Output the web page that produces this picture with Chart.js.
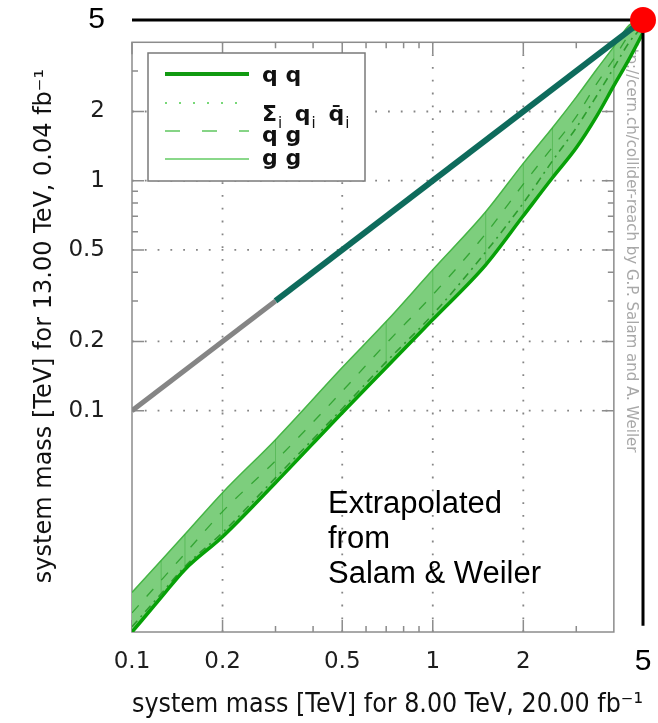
<!DOCTYPE html>
<html>
<head>
<meta charset="utf-8">
<script src="https://cdn.jsdelivr.net/npm/chart.js@4.4.1/dist/chart.umd.min.js"></script>
<style>
  html, body { margin: 0; padding: 0; background: #fff; }
</style>
</head>
<body>
<canvas id="chart" width="658" height="723"></canvas>
<script>
// axis ranges
const xRange = [0.1, 5];
const yRange = [0.0109, 5];
const frameMax = 4; // edge of the original Salam & Weiler frame
const tickValues = [0.1, 0.2, 0.5, 1, 2, 5];
const gridX = [0.2, 0.5, 1, 2];
const gridY = [0.1, 0.2, 0.5, 1, 2];
const minorTicks = [0.3, 0.4, 0.6, 0.7, 0.8, 0.9, 3];

// reach band
const bandX = [0.1, 0.125, 0.15, 0.2, 0.3, 0.5, 0.7, 1, 1.5, 2, 2.5, 3, 3.5, 4, 4.5, 5];
const qqLower = [0.0109, 0.0154, 0.0204, 0.0283, 0.0486, 0.098, 0.154, 0.249, 0.431, 0.704, 1.03, 1.39, 1.90, 2.59, 3.39, 4.4];
const qqbarMid = [0.0115, 0.016, 0.021, 0.0295, 0.051, 0.102, 0.163, 0.262, 0.49, 0.80, 1.22, 1.70, 2.33, 3.10, 4.0, 4.7];
const qgMid = [0.0132, 0.0183, 0.0239, 0.0364, 0.0605, 0.1215, 0.196, 0.319, 0.588, 0.966, 1.40, 1.90, 2.63, 3.39, 4.31, 4.8];
const ggUpper = [0.0162, 0.0223, 0.0290, 0.0440, 0.0748, 0.154, 0.244, 0.410, 0.733, 1.19, 1.70, 2.31, 3.04, 3.83, 4.75, 5.0];
const hatchX = [0.125, 0.15, 0.2, 0.3, 0.7, 1, 1.5, 2, 2.5, 4];

// equal-mass diagonal and the 5 TeV marker
const diagGreyX = [0.1, 0.3];
const diagTealX = [0.3, 5];
const limitX = [0.1, 5, 5];
const limitY = [5, 5, 0.0116];
const markerX = [5];
const markerY = [5];

const pts = (xs, ys) => xs.map((v, i) => ({ x: v, y: ys[i] }));

const overlay = {
  id: "overlay",
  beforeDatasetsDraw(chart) {
    const { ctx, scales: { x, y } } = chart;
    const left = x.getPixelForValue(xRange[0]);
    const right = x.getPixelForValue(frameMax);
    const bottom = y.getPixelForValue(yRange[0]);
    const top = y.getPixelForValue(frameMax);
    ctx.save();

    // dotted grid inside the old frame
    ctx.strokeStyle = "#858585";
    ctx.lineWidth = 1.8;
    ctx.setLineDash([1.8, 11]);
    gridX.forEach((v) => {
      const px = x.getPixelForValue(v);
      ctx.beginPath(); ctx.moveTo(px, bottom); ctx.lineTo(px, top); ctx.stroke();
    });
    gridY.forEach((v) => {
      const py = y.getPixelForValue(v);
      ctx.beginPath(); ctx.moveTo(left, py); ctx.lineTo(right, py); ctx.stroke();
    });

    // frame and inward ticks
    ctx.setLineDash([]);
    ctx.strokeStyle = "#8c8c8c";
    ctx.lineWidth = 1.5;
    ctx.strokeRect(left, top, right - left, bottom - top);
    const tick = (v, len) => {
      const px = x.getPixelForValue(v);
      ctx.beginPath();
      ctx.moveTo(px, bottom); ctx.lineTo(px, bottom - len);
      ctx.moveTo(px, top); ctx.lineTo(px, top + len);
      ctx.stroke();
      const py = y.getPixelForValue(v);
      ctx.beginPath();
      ctx.moveTo(left, py); ctx.lineTo(left + len, py);
      ctx.moveTo(right, py); ctx.lineTo(right - len, py);
      ctx.stroke();
    };
    gridY.forEach((v) => tick(v, 12));
    minorTicks.forEach((v) => tick(v, 6));

    // credit line
    const wx = (right + x.getPixelForValue(xRange[1])) / 2 + 2;
    ctx.translate(wx, top - 9);
    ctx.rotate(Math.PI / 2);
    ctx.fillStyle = "#a8a8a8";
    ctx.font = '15px "DejaVu Sans"';
    ctx.textBaseline = "middle";
    ctx.fillText("http://cern.ch/collider-reach by G.P. Salam and A. Weiler", 0, 0);
    ctx.restore();
  },
  afterDatasetsDraw(chart) {
    const { ctx } = chart;
    ctx.save();

    // faint slices of the band
    const lo = chart.getDatasetMeta(4).data;
    const hi = chart.getDatasetMeta(7).data;
    ctx.strokeStyle = "rgba(40, 160, 40, 0.4)";
    ctx.lineWidth = 1;
    hatchX.forEach((v) => {
      const i = bandX.indexOf(v);
      ctx.beginPath(); ctx.moveTo(lo[i].x, lo[i].y); ctx.lineTo(hi[i].x, hi[i].y); ctx.stroke();
    });

    // legend
    ctx.fillStyle = "#fff";
    ctx.fillRect(148, 53, 217, 128);
    ctx.strokeStyle = "#7a7a7a";
    ctx.lineWidth = 1.5;
    ctx.strokeRect(148, 53, 217, 128);

    const sample = (yy, color, width, dash) => {
      ctx.strokeStyle = color;
      ctx.lineWidth = width;
      ctx.setLineDash(dash);
      ctx.beginPath(); ctx.moveTo(165, yy); ctx.lineTo(249, yy); ctx.stroke();
    };
    sample(74, "#119a11", 4, []);
    sample(103, "#78d878", 2, [2, 12]);
    sample(131, "#86d486", 2, [15, 22]);
    sample(159, "#8ad88a", 2, []);
    ctx.setLineDash([]);

    ctx.fillStyle = "#111";
    ctx.textBaseline = "alphabetic";
    ctx.font = 'bold 22px "DejaVu Sans"';
    ctx.fillText("q q", 262, 82);
    ctx.fillText("q g", 262, 142);
    ctx.fillText("g g", 262, 165);
    let cx = 262;
    [["Σ", 0], ["i", 1], [" ", 0], ["q", 0], ["i", 1], [" ", 0], ["q̄", 0], ["i", 1]].forEach(([s, sub]) => {
      ctx.font = sub ? '15px "DejaVu Sans"' : 'bold 22px "DejaVu Sans"';
      ctx.fillText(s, cx, sub ? 128 : 121);
      cx += ctx.measureText(s).width + (sub ? 4 : 1);
    });

    // note
    ctx.font = '31px "Liberation Sans"';
    ctx.fillStyle = "#000";
    ctx.fillText("Extrapolated", 328, 513);
    ctx.fillText("from", 328, 548);
    ctx.fillText("Salam & Weiler", 328, 583);
    ctx.restore();
  },
};

const tickFont = (ctx) =>
  ctx.tick && ctx.tick.value === 5
    ? { family: "Liberation Sans", size: 30, lineHeight: 0.92 }
    : { family: "DejaVu Sans", size: 23, lineHeight: 1.2 };
const tickColor = (ctx) => (ctx.tick && ctx.tick.value === 5 ? "#000" : "#1e1e1e");
const setTicks = (scale) => {
  scale.ticks = tickValues.map((v) => ({ value: v }));
};

new Chart(document.getElementById("chart"), {
  type: "line",
  data: {
    datasets: [
      {
        label: "limit",
        data: pts(markerX, markerY),
        showLine: false,
        pointRadius: 13,
        pointBackgroundColor: "#ff0000",
        pointBorderWidth: 0,
        clip: false,
        order: 0,
      },
      {
        label: "diag high",
        data: pts(diagTealX, diagTealX),
        borderColor: "#0e6b5c",
        borderWidth: 6,
        pointRadius: 0,
        order: 1,
      },
      {
        label: "diag low",
        data: pts(diagGreyX, diagGreyX),
        borderColor: "#858585",
        borderWidth: 5,
        pointRadius: 0,
        order: 2,
      },
      {
        label: "5 TeV",
        data: pts(limitX, limitY),
        borderColor: "#000",
        borderWidth: 3,
        pointRadius: 0,
        clip: false,
        order: 3,
      },
      {
        label: "q q",
        data: pts(bandX, qqLower),
        borderColor: "#07a007",
        borderWidth: 3.5,
        pointRadius: 0,
        cubicInterpolationMode: "monotone",
        order: 4,
      },
      {
        label: "Σi qi q̄i",
        data: pts(bandX, qqbarMid),
        borderColor: "#2d9d2d",
        borderWidth: 1.6,
        borderDash: [8, 5, 2, 5],
        pointRadius: 0,
        cubicInterpolationMode: "monotone",
        order: 5,
      },
      {
        label: "q g",
        data: pts(bandX, qgMid),
        borderColor: "#35a535",
        borderWidth: 1.3,
        borderDash: [10, 12],
        pointRadius: 0,
        cubicInterpolationMode: "monotone",
        order: 6,
      },
      {
        label: "g g",
        data: pts(bandX, ggUpper),
        borderColor: "#45b545",
        borderWidth: 1.5,
        pointRadius: 0,
        cubicInterpolationMode: "monotone",
        backgroundColor: "#7dce7d",
        fill: 4,
        order: 7,
      },
    ],
  },
  options: {
    responsive: false,
    animation: false,
    layout: { padding: { top: 20, right: 15, bottom: 0, left: 0 } },
    plugins: { legend: { display: false }, tooltip: { enabled: false } },
    scales: {
      x: {
        type: "logarithmic",
        min: xRange[0],
        max: xRange[1],
        afterBuildTicks: setTicks,
        afterFit: (scale) => {
          scale.height = 91;
          scale.paddingLeft = 0;
          scale.paddingRight = 0;
        },
        grid: { display: false },
        border: { display: false },
        ticks: {
          autoSkip: false,
          maxRotation: 0,
          padding: 8,
          font: tickFont,
          color: tickColor,
          callback: (v) => String(v),
        },
        title: {
          display: true,
          text: "system mass [TeV] for 8.00 TeV, 20.00 fb⁻¹",
          font: { family: "DejaVu Sans", size: 26 },
          color: "#111",
          padding: { top: 0, bottom: 2 },
        },
      },
      y: {
        type: "logarithmic",
        min: yRange[0],
        max: yRange[1],
        afterBuildTicks: setTicks,
        afterFit: (scale) => {
          scale.width = 132;
          scale.paddingTop = 0;
          scale.paddingBottom = 0;
        },
        grid: { display: false },
        border: { display: false },
        ticks: {
          autoSkip: false,
          padding: 19,
          font: tickFont,
          color: tickColor,
          callback: (v) => String(v),
        },
        title: {
          display: true,
          text: "system mass [TeV] for 13.00 TeV, 0.04 fb⁻¹",
          font: { family: "DejaVu Sans", size: 24 },
          color: "#111",
          padding: { top: 30, bottom: 0 },
        },
      },
    },
  },
  plugins: [overlay],
});
</script>
</body>
</html>
